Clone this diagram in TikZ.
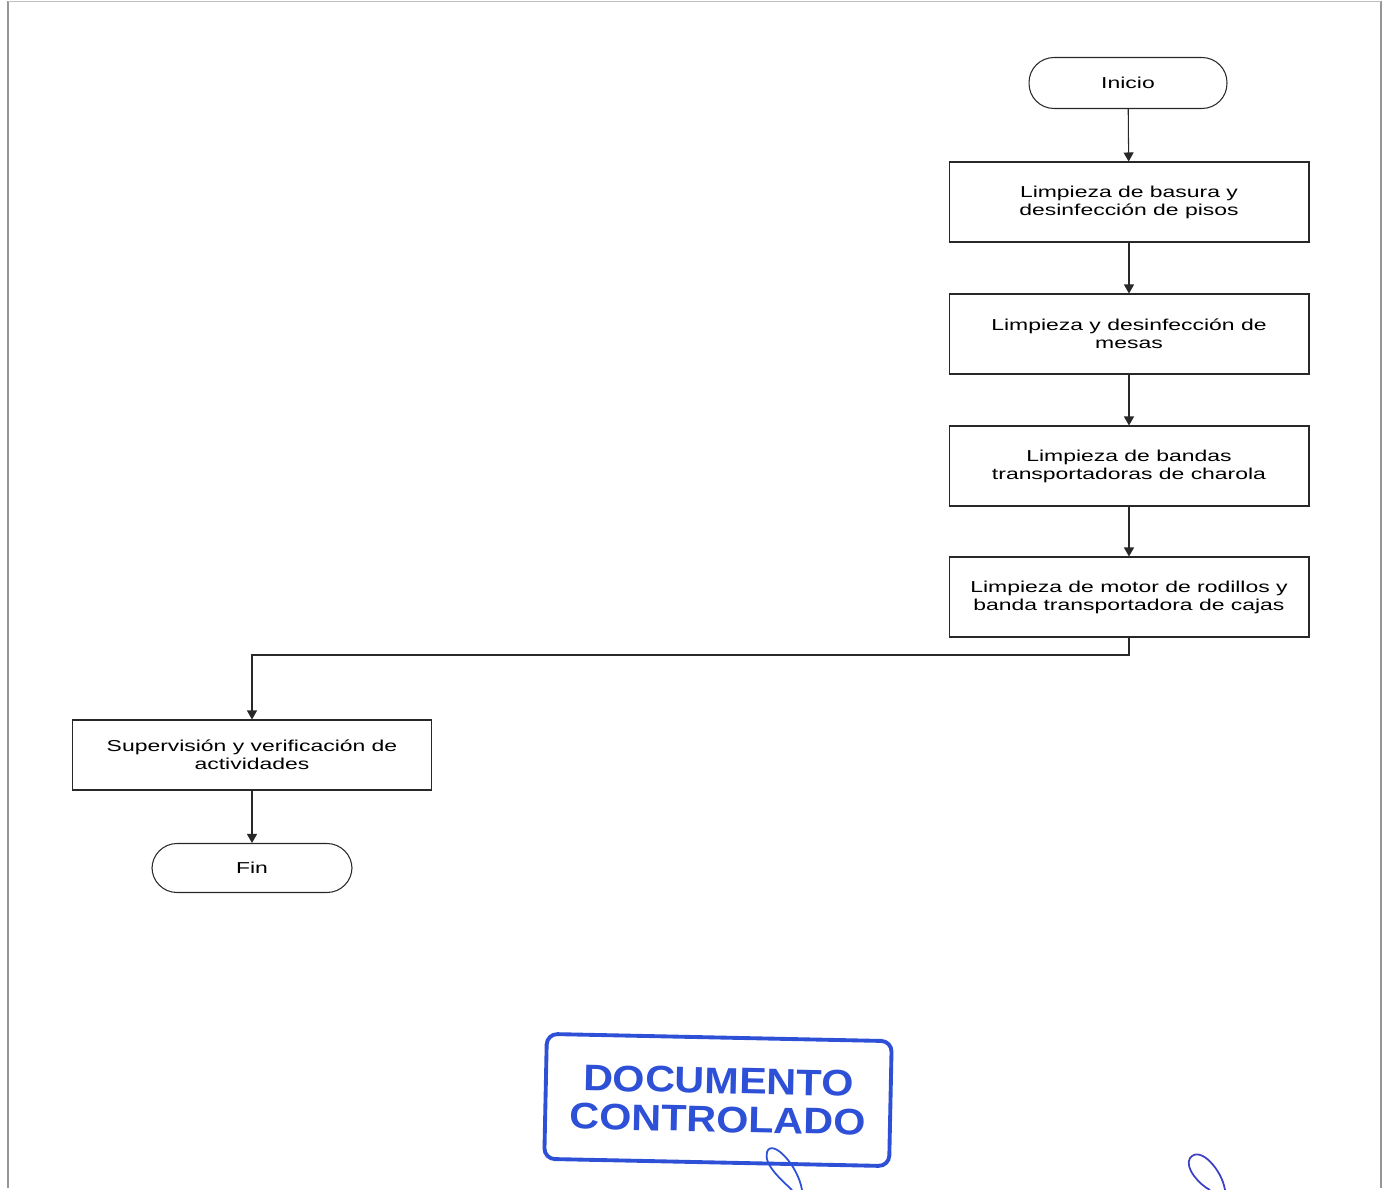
\documentclass[tikz,border=0pt]{standalone}
\usepackage{fontspec}
\setmainfont{Liberation Sans}[FakeStretch=1.45]
\newfontfamily\stampfont{Liberation Sans}[FakeStretch=1.12]
\usetikzlibrary{arrows.meta}
\definecolor{stampblue}{RGB}{45,80,215}
\definecolor{framegray}{RGB}{150,150,150}
\definecolor{linea}{RGB}{40,40,40}

\tikzset{
  paso/.style={draw=linea,line width=0.6pt,minimum width=7.2cm,minimum height=1.6cm,
    align=center,font=\fontsize{9}{10.2}\selectfont,inner sep=0pt},
  terminal/.style={draw=linea,line width=0.6pt,rounded corners=0.5cm,minimum width=3.96cm,
    minimum height=1.02cm,font=\fontsize{9}{10.2}\selectfont},
  flecha/.style={linea,line width=0.6pt,-{Triangle[width=0.2cm,length=0.18cm]}}
}

\begin{document}
\begin{tikzpicture}[x=0.02cm,y=-0.02cm]
  \useasboundingbox (0,0) rectangle (1387,1190);
  % marco de la hoja
  \draw[framegray,line width=1.2pt] (8,1) -- (8,1188);
  \draw[framegray,line width=1.2pt] (1381,1) -- (1381,1188);
  \draw[framegray!60,line width=0.5pt] (8,1) -- (1381,1);

  % pasos
  \node[terminal] (inicio) at (1128,83) {Inicio};
  \node[paso] (basura) at (1129,202) {Limpieza de basura y\\desinfección de pisos};
  \node[paso] (mesas) at (1129,334) {Limpieza y desinfección de\\mesas};
  \node[paso] (bandas) at (1129,466) {Limpieza de bandas\\transportadoras de charola};
  \node[paso] (motor) at (1129,597) {Limpieza de motor de rodillos y\\banda transportadora de cajas};
  \node[paso,minimum height=1.4cm] (super) at (252,755) {Supervisión y verificación de\\actividades};
  \node[terminal,minimum width=4cm,minimum height=0.98cm] (fin) at (252,868) {Fin};

  % conectores
  \draw[flecha] (inicio) -- (basura);
  \draw[flecha] (basura) -- (mesas);
  \draw[flecha] (mesas) -- (bandas);
  \draw[flecha] (bandas) -- (motor);
  \draw[flecha] (motor.south) |- (252,655) -- (super.north);
  \draw[flecha] (super) -- (fin);

  % sello
  \node[draw=stampblue,line width=2.2pt,rounded corners=6pt,rotate=-1.2,
    minimum width=6.9cm,minimum height=2.5cm,text=stampblue,align=center,
    font=\stampfont\bfseries\fontsize{21}{22}\selectfont] (sello) at (718,1100)
    {DOCUMENTO\\CONTROLADO};
  % firmas
  \draw[stampblue,line width=1pt] (802,1190) .. controls (798,1165) and (772,1138) .. (767,1152)
    .. controls (763,1165) and (784,1182) .. (792,1190);
  \draw[stampblue!80!violet,line width=1pt] (1225,1190) .. controls (1222,1170) and (1200,1145) .. (1190,1158)
    .. controls (1184,1168) and (1200,1185) .. (1210,1190);
\end{tikzpicture}
\end{document}
